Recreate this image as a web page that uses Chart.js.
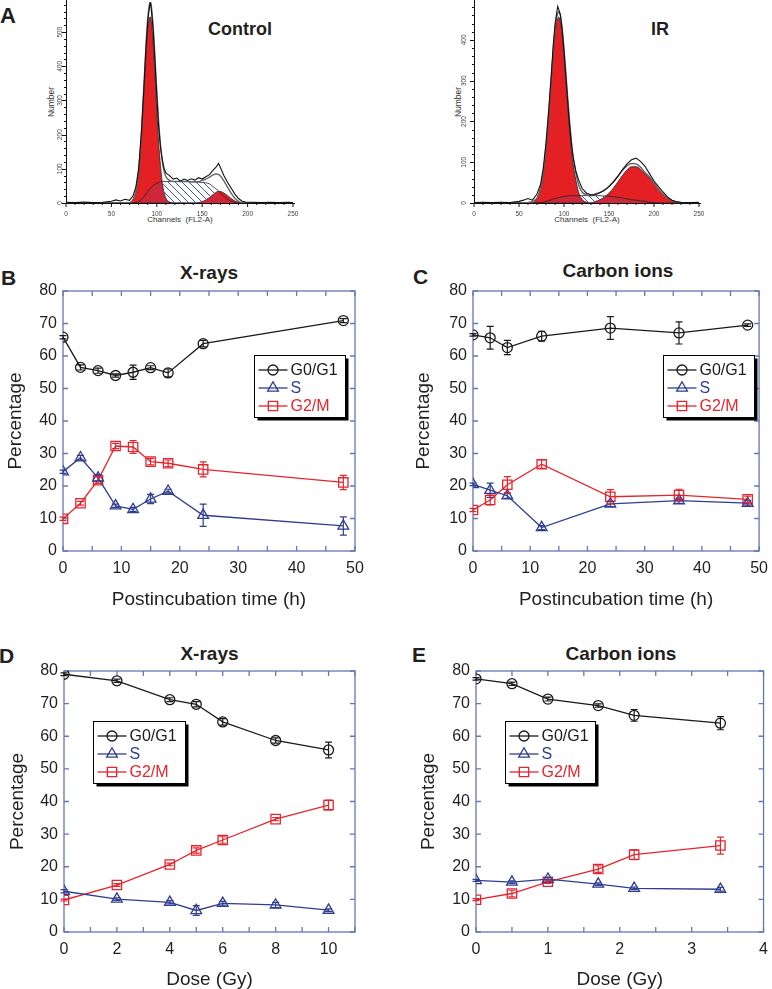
<!DOCTYPE html>
<html>
<head>
<meta charset="utf-8">
<script src="https://cdn.jsdelivr.net/npm/chart.js@4.4.1/dist/chart.umd.min.js"></script>
<style>
  html, body { margin: 0; padding: 0; background: #fff; }
  body { position: relative; width: 772px; height: 989px; overflow: hidden; font-family: "Liberation Sans", Arial, sans-serif; color: #231f20; }
  canvas { position: absolute; }
  .t { position: absolute; white-space: nowrap; line-height: 1; }
  .b { font-weight: bold; }
  .c { transform: translateX(-50%); }
  .r { transform: translate(-50%, -50%) rotate(-90deg); color: #333; font-size: 8.5px; }
</style>
</head>
<body>
<div class="t b" style="left:0;top:5px;font-size:22px">A</div>
<div class="t b c" style="left:240px;top:19.5px;font-size:18px">Control</div>
<div class="t b c" style="left:660px;top:19.5px;font-size:18px">IR</div>
<div class="t r" style="left:51px;top:102px">Number</div>
<div class="t r" style="left:458px;top:102px">Number</div>
<div class="t c" style="left:180px;top:215.5px;font-size:8px;color:#333">Channels&nbsp;&nbsp;(FL2-A)</div>
<div class="t c" style="left:587px;top:215.5px;font-size:8px;color:#333">Channels&nbsp;&nbsp;(FL2-A)</div>

<div class="t b" style="left:1px;top:267px;font-size:21px">B</div>
<div class="t b c" style="left:209px;top:262.5px;font-size:19px">X-rays</div>
<div class="t b" style="left:413px;top:266px;font-size:21px">C</div>
<div class="t b c" style="left:618px;top:261px;font-size:19px">Carbon ions</div>
<div class="t b" style="left:-1px;top:645px;font-size:21px">D</div>
<div class="t b c" style="left:209.5px;top:644px;font-size:19px">X-rays</div>
<div class="t b" style="left:412px;top:644px;font-size:21px">E</div>
<div class="t b c" style="left:621px;top:644px;font-size:19px">Carbon ions</div>

<canvas id="ctl" width="320" height="222" style="left:0;top:0"></canvas>
<canvas id="ir" width="330" height="222" style="left:386px;top:0"></canvas>
<canvas id="pb" width="386" height="341" style="left:0;top:270px"></canvas>
<canvas id="pc" width="368" height="341" style="left:408px;top:270px"></canvas>
<canvas id="pd" width="384" height="341" style="left:2px;top:650px"></canvas>
<canvas id="pe" width="363" height="341" style="left:413px;top:650px"></canvas>

<script>
// ---- panel A: DNA histograms (channel vs number of cells) ----
const histXTicks = [0, 50, 100, 150, 200, 250];
const ctlYTicks = [0, 100, 200, 300, 400, 500];
const irYTicks = [0, 100, 200, 300, 400];

const ctlCh = [0, 10, 20, 30, 40, 50, 55, 60, 65, 70, 74, 77, 80, 83, 86, 88, 90, 92, 93, 94,
  96, 98, 100, 102, 104, 106, 108, 110, 114, 118, 122, 126, 130, 134, 138, 142, 146, 150, 154, 158,
  162, 165, 168, 171, 174, 178, 182, 186, 190, 194, 198, 205, 215, 225, 235, 245, 250];
const ctlRaw = [2, 1, 3, 1, 2, 5, 9, 6, 11, 8, 22, 48, 100, 205, 345, 450, 530, 575, 588, 565,
  505, 410, 315, 225, 165, 128, 102, 88, 80, 70, 73, 64, 70, 66, 71, 67, 74, 70, 77, 83,
  96, 104, 116, 98, 80, 60, 43, 26, 13, 5, 3, 2, 1, 2, 1, 2, 1];
const ctlFit = [0, 0, 0, 0, 0, 0, 0, 0, 0, 1, 11, 35, 94, 203, 354, 457, 540, 582, 587, 576,
  516, 427, 326, 238, 172, 122, 93, 77, 66, 63, 63, 63, 63, 63, 62, 62, 62, 66, 70, 76,
  82, 85, 84, 76, 64, 46, 28, 14, 5, 1, 0, 0, 0, 0, 0, 0, 0];
const ctlG1 = [0, 0, 0, 0, 0, 0, 0, 0, 0, 1, 11, 34, 90, 193, 335, 431, 507, 542, 544, 530,
  465, 372, 268, 178, 110, 60, 30, 14, 3, 0, 0, 0, 0, 0, 0, 0, 0, 0, 0, 0,
  0, 0, 0, 0, 0, 0, 0, 0, 0, 0, 0, 0, 0, 0, 0, 0, 0];
const ctlS = [0, 0, 0, 0, 0, 0, 0, 0, 0, 0, 0, 1, 4, 10, 19, 26, 33, 40, 43, 46,
  51, 55, 58, 60, 62, 62, 63, 63, 63, 63, 63, 63, 63, 63, 62, 62, 61, 60, 59, 56,
  48, 42, 35, 27, 19, 11, 5, 2, 0, 0, 0, 0, 0, 0, 0, 0, 0];
const ctlG2 = [0, 0, 0, 0, 0, 0, 0, 0, 0, 0, 0, 0, 0, 0, 0, 0, 0, 0, 0, 0,
  0, 0, 0, 0, 0, 0, 0, 0, 0, 0, 0, 0, 0, 0, 0, 0, 1, 4, 9, 16,
  25, 31, 34, 33, 29, 21, 13, 6, 2, 0, 0, 0, 0, 0, 0, 0, 0];

const irCh = [0, 10, 20, 30, 40, 50, 55, 60, 65, 70, 74, 77, 80, 83, 86, 88, 90, 92, 93, 94,
  96, 98, 100, 102, 104, 106, 108, 110, 113, 116, 120, 125, 130, 135, 140, 145, 150, 155, 160, 165,
  170, 175, 180, 185, 190, 195, 200, 205, 210, 215, 220, 225, 230, 240, 250];
const irRaw = [1, 2, 1, 2, 1, 4, 7, 11, 7, 22, 46, 86, 148, 228, 318, 386, 438, 468, 482, 476,
  462, 424, 372, 312, 252, 196, 150, 114, 80, 58, 36, 24, 20, 21, 25, 31, 40, 52, 66, 82,
  96, 106, 110, 102, 90, 72, 54, 40, 27, 15, 7, 3, 2, 1, 2];
const irFit = [0, 0, 0, 0, 0, 0, 0, 1, 4, 12, 37, 75, 136, 218, 312, 373, 423, 457, 464, 469,
  459, 427, 379, 321, 262, 206, 156, 116, 76, 46, 27, 20, 18, 22, 26, 32, 41, 52, 66, 80,
  91, 97, 96, 88, 75, 64, 49, 34, 22, 12, 6, 3, 1, 0, 0];
const irG1 = [0, 0, 0, 0, 0, 0, 0, 0, 0, 12, 36, 73, 132, 212, 304, 363, 412, 445, 452, 456,
  445, 412, 363, 304, 245, 188, 138, 98, 58, 28, 9, 2, 0, 0, 0, 0, 0, 0, 0, 0,
  0, 0, 0, 0, 0, 0, 0, 0, 0, 0, 0, 0, 0, 0, 0];
const irS = [0, 0, 0, 0, 0, 0, 0, 0, 0, 0, 1, 2, 4, 6, 8, 10, 11, 12, 12, 13,
  14, 15, 16, 17, 17, 18, 18, 18, 18, 18, 18, 18, 18, 18, 18, 17, 17, 15, 14, 12,
  10, 8, 7, 5, 4, 2, 1, 0, 0, 0, 0, 0, 0, 0, 0];
const irG2 = [0, 0, 0, 0, 0, 0, 0, 0, 0, 0, 0, 0, 0, 0, 0, 0, 0, 0, 0, 0,
  0, 0, 0, 0, 0, 0, 0, 0, 0, 0, 0, 0, 0, 4, 8, 15, 24, 37, 52, 68,
  81, 89, 89, 83, 71, 62, 48, 34, 22, 12, 6, 3, 1, 0, 0];

// ---- panels B-E: cell cycle distribution (%) ----
const pctTicks = [0, 10, 20, 30, 40, 50, 60, 70, 80];
const timeTicks = [0, 10, 20, 30, 40, 50];
const xrayDoseTicks = [0, 2, 4, 6, 8, 10];
const carbonDoseTicks = [0, 1, 2, 3, 4];

// B: X-rays vs postincubation time
const bTime = [0, 3, 6, 9, 12, 15, 18, 24, 48];
const bG1 = [65.8, 56.5, 55.5, 54, 55, 56.4, 54.8, 63.8, 70.9];
const bG1Err = [0.5, 0.8, 0.8, 0.5, 2.2, 0.6, 1.2, 1, 0.6];
const bS = [24.4, 28.7, 22.5, 13.9, 12.8, 16, 18.4, 11, 7.7];
const bSErr = [0.5, 0.7, 1, 0.5, 0.6, 1.4, 0.6, 3.4, 2.8];
const bG2 = [9.9, 14.7, 21.8, 32.3, 32, 27.5, 27, 25.1, 21.1];
const bG2Err = [0.5, 0.6, 1, 0.8, 2, 1, 1, 2.3, 2.2];

// C: carbon ions vs postincubation time
const cTime = [0, 3, 6, 12, 24, 36, 48];
const cG1 = [66.5, 65.6, 62.6, 66.1, 68.6, 67.1, 69.5];
const cG1Err = [0.4, 3.5, 2.2, 1.5, 3.5, 3.4, 0.4];
const cS = [20.5, 18.7, 17, 7.2, 14.5, 15.5, 14.7];
const cSErr = [0.4, 2.2, 0.8, 0.6, 0.8, 0.8, 0.8];
const cG2 = [12.6, 15.7, 20.4, 26.7, 16.7, 17.2, 15.9];
const cG2Err = [0.5, 1.5, 2.5, 1.3, 2.2, 1.8, 1];

// D: X-rays vs dose
const dDose = [0, 2, 4, 5, 6, 8, 10];
const dG1 = [79, 77, 71.2, 69.8, 64.4, 58.7, 55.8];
const dG1Err = [0.4, 0.5, 0.6, 0.8, 1, 0.8, 2.4];
const dS = [12.5, 10.1, 9.1, 6.6, 8.8, 8.3, 6.7];
const dSErr = [0.5, 0.4, 0.5, 1.5, 0.6, 0.8, 0.4];
const dG2 = [9.8, 14.4, 20.7, 25, 28.2, 34.6, 38.9];
const dG2Err = [0.3, 0.4, 0.4, 0.8, 1, 0.5, 1.5];

// E: carbon ions vs dose
const eDose = [0, 0.5, 1, 1.7, 2.2, 3.4];
const eG1 = [77.6, 76.1, 71.4, 69.4, 66.4, 64];
const eG1Err = [0.4, 0.5, 0.6, 0.5, 1.8, 2];
const eS = [15.8, 15.3, 16.2, 14.7, 13.4, 13.1];
const eSErr = [0.3, 0.4, 0.5, 0.4, 0.4, 0.6];
const eG2 = [9.9, 11.8, 15.4, 19.3, 23.7, 26.5];
const eG2Err = [0.3, 1, 0.5, 1, 1.5, 2.6];

const FONT = '"Liberation Sans", Arial, sans-serif';
const TXT = '#231f20';
const BLACK = '#1a1a1a', BLUE = '#2f3d91', RED = '#e5252c', FRAME = '#6677b6';
const HRED = '#e42024';

// axes for the histograms: left + bottom lines, outward ticks, tiny labels
const histAxes = {
  id: 'histAxes',
  beforeDatasetsDraw(chart, args, o) {
    const { ctx, chartArea: a, scales: { x, y } } = chart;
    ctx.save();
    ctx.strokeStyle = '#111';
    ctx.lineWidth = 1;
    ctx.beginPath();
    ctx.moveTo(a.left + 0.5, 0);
    ctx.lineTo(a.left + 0.5, a.bottom + 0.5);
    ctx.lineTo(a.right + 2, a.bottom + 0.5);
    for (let v = 0; v <= x.max; v += 10) {
      const p = x.getPixelForValue(v);
      ctx.moveTo(p, a.bottom);
      ctx.lineTo(p, a.bottom + (v % 50 === 0 ? 4 : 2));
    }
    for (let v = 0; v <= y.max; v += 20) {
      const p = Math.round(y.getPixelForValue(v)) + 0.5;
      ctx.moveTo(a.left, p);
      ctx.lineTo(a.left - (v % 100 === 0 ? 4 : 2), p);
    }
    ctx.stroke();
    ctx.fillStyle = '#444';
    ctx.font = '6.5px ' + FONT;
    ctx.textAlign = 'center';
    histXTicks.forEach(v => ctx.fillText(String(v), x.getPixelForValue(v), a.bottom + 12.5));
    o.yTicks.forEach(v => {
      ctx.save();
      ctx.translate(a.left - o.yGap, y.getPixelForValue(v));
      ctx.rotate(-Math.PI / 2);
      ctx.textBaseline = 'middle';
      ctx.fillText(String(v), 0, 0);
      ctx.restore();
    });
    ctx.restore();
  }
};

function hatchPattern(canvas) {
  const c = document.createElement('canvas');
  c.width = 7; c.height = 7;
  const g = c.getContext('2d');
  g.strokeStyle = '#4658ab';
  g.lineWidth = 1;
  g.beginPath();
  g.moveTo(-1, -1); g.lineTo(8, 8);
  g.moveTo(-1, 6); g.lineTo(1, 8);
  g.moveTo(6, -1); g.lineTo(8, 1);
  g.stroke();
  return canvas.getContext('2d').createPattern(c, 'repeat');
}

function pts(xs, ys) { return xs.map((x, i) => ({ x, y: ys[i] })); }

function histogram(id, ch, raw, fit, g1, s, g2, yMax, yTicks, yGap, pad) {
  const canvas = document.getElementById(id);
  const smooth = { cubicInterpolationMode: 'monotone', pointRadius: 0 };
  return new Chart(canvas, {
    type: 'line',
    data: { datasets: [
      { data: pts(ch, raw), borderColor: '#111', borderWidth: 1.1, pointRadius: 0, fill: false, order: 0 },
      { data: pts(ch, fit), borderColor: '#666', borderWidth: 1.4, fill: false, order: 1, ...smooth },
      { data: pts(ch, s), borderColor: '#222', borderWidth: 0.8, backgroundColor: hatchPattern(canvas), fill: 'origin', order: 2, ...smooth },
      { data: pts(ch, g2), borderColor: '#222', borderWidth: 0.8, backgroundColor: HRED, fill: 'origin', order: 3, ...smooth },
      { data: pts(ch, g1), borderColor: '#222', borderWidth: 0.8, backgroundColor: HRED, fill: 'origin', order: 4, ...smooth }
    ]},
    options: {
      responsive: false, animation: false, events: [],
      layout: { padding: pad },
      scales: {
        x: { type: 'linear', min: 0, max: 250, display: false },
        y: { min: 0, max: yMax, display: false }
      },
      plugins: { legend: { display: false }, tooltip: { enabled: false }, histAxes: { yTicks, yGap } }
    },
    plugins: [histAxes]
  });
}

histogram('ctl', ctlCh, ctlRaw, ctlFit, ctlG1, ctlS, ctlG2, 588, ctlYTicks, 6,
  { left: 66, top: 2, right: 27, bottom: 19 });
histogram('ir', irCh, irRaw, irFit, irG1, irS, irG2, 493, irYTicks, 9.5,
  { left: 88, top: 2, right: 17, bottom: 19 });

// ---- line panels ----
function drawMarker(ctx, style, x, y, r) {
  ctx.beginPath();
  if (style === 'circle') {
    ctx.arc(x, y, r, 0, Math.PI * 2);
  } else if (style === 'triangle') {
    ctx.moveTo(x, y - r);
    ctx.lineTo(x + r * 0.866, y + r * 0.5);
    ctx.lineTo(x - r * 0.866, y + r * 0.5);
    ctx.closePath();
  } else {
    const h = r * Math.SQRT1_2;
    ctx.rect(x - h, y - h, 2 * h, 2 * h);
  }
  ctx.stroke();
}

const framePlugin = {
  id: 'frame',
  beforeDatasetsDraw(chart, args, o) {
    const { ctx, chartArea: a, scales: { x, y } } = chart;
    ctx.save();
    ctx.strokeStyle = FRAME;
    ctx.lineWidth = 1.3;
    ctx.strokeRect(a.left, a.top, a.right - a.left, a.bottom - a.top);
    ctx.beginPath();
    for (let v = x.min; v <= x.max + 1e-9; v += o.xStep) {
      const p = x.getPixelForValue(v);
      ctx.moveTo(p, a.bottom); ctx.lineTo(p, a.bottom - 5);
      ctx.moveTo(p, a.top); ctx.lineTo(p, a.top + 5);
    }
    for (let v = y.min; v <= y.max + 1e-9; v += o.yStep) {
      const p = y.getPixelForValue(v);
      ctx.moveTo(a.left, p); ctx.lineTo(a.left + 5, p);
      ctx.moveTo(a.right, p); ctx.lineTo(a.right - 5, p);
    }
    ctx.stroke();
    ctx.restore();
  }
};

const errorBars = {
  id: 'errorBars',
  afterDatasetsDraw(chart) {
    const { ctx, scales: { y } } = chart;
    ctx.save();
    ctx.lineWidth = 1.2;
    chart.data.datasets.forEach((ds, i) => {
      const meta = chart.getDatasetMeta(i);
      ctx.strokeStyle = ds.borderColor;
      ctx.beginPath();
      meta.data.forEach((el, j) => {
        const v = ds.data[j].y, e = ds.errors[j];
        const t = y.getPixelForValue(v + e), b = y.getPixelForValue(v - e);
        ctx.moveTo(el.x, t); ctx.lineTo(el.x, b);
        ctx.moveTo(el.x - 3.5, t); ctx.lineTo(el.x + 3.5, t);
        ctx.moveTo(el.x - 3.5, b); ctx.lineTo(el.x + 3.5, b);
      });
      ctx.stroke();
    });
    ctx.restore();
  }
};

const boxLegend = {
  id: 'boxLegend',
  afterDraw(chart, args, o) {
    const { ctx, chartArea: a } = chart;
    const bx = Math.round(a.left + o.x) + 0.5, by = Math.round(a.top + o.y) + 0.5;
    ctx.save();
    ctx.fillStyle = '#000';
    ctx.fillRect(bx + 3, by + 3, o.w, o.h);
    ctx.fillStyle = '#fff';
    ctx.fillRect(bx, by, o.w, o.h);
    ctx.strokeStyle = '#000';
    ctx.lineWidth = 1;
    ctx.strokeRect(bx, by, o.w, o.h);
    ctx.font = '16px ' + FONT;
    ctx.textBaseline = 'middle';
    chart.data.datasets.forEach((ds, i) => {
      const cy = by + 14.5 + 18 * i;
      ctx.strokeStyle = ds.borderColor;
      ctx.lineWidth = 1.3;
      ctx.beginPath();
      ctx.moveTo(bx + 4, cy); ctx.lineTo(bx + 33, cy);
      ctx.stroke();
      drawMarker(ctx, ds.pointStyle, bx + 18.5, cy, ds.pointRadius);
      ctx.fillStyle = ds.borderColor;
      ctx.fillText(ds.label, bx + 36, cy + 1);
    });
    ctx.restore();
  }
};

function series(label, xs, ys, errs, color, style, radius) {
  return {
    label, data: pts(xs, ys), errors: errs,
    borderColor: color, backgroundColor: color, borderWidth: 1.3,
    pointStyle: style, pointRadius: radius, pointBorderColor: color,
    pointBackgroundColor: 'rgba(255,255,255,0)', pointBorderWidth: 1.3,
    tension: 0, fill: false
  };
}

function panel(id, c) {
  const tickFont = { family: FONT, size: 16 };
  const titleFont = { family: FONT, size: 19 };
  return new Chart(document.getElementById(id), {
    type: 'line',
    data: { datasets: [
      series('G0/G1', c.x, c.g1, c.g1e, BLACK, 'circle', 5),
      series('S', c.x, c.s, c.se, BLUE, 'triangle', 6.2),
      series('G2/M', c.x, c.g2, c.g2e, RED, 'rect', 6.6)
    ]},
    options: {
      responsive: false, animation: false, events: [],
      layout: { padding: { left: 0, top: 21, right: c.padRight, bottom: 0 } },
      scales: {
        x: {
          type: 'linear', min: 0, max: c.xMax,
          grid: { display: false, drawTicks: false }, border: { display: false },
          afterBuildTicks: sc => { sc.ticks = c.xTicks.map(v => ({ value: v })); },
          afterFit: sc => { sc.height = c.xH; },
          ticks: { padding: 8, color: TXT, font: tickFont, maxRotation: 0, autoSkip: false },
          title: { display: true, text: c.xTitle, color: TXT, font: titleFont, padding: { top: 0, bottom: 0 } }
        },
        y: {
          min: 0, max: 80,
          grid: { display: false, drawTicks: false }, border: { display: false },
          afterBuildTicks: sc => { sc.ticks = pctTicks.map(v => ({ value: v })); },
          afterFit: sc => { sc.width = c.yW; },
          ticks: { padding: 6, color: TXT, font: tickFont, autoSkip: false },
          title: { display: true, text: 'Percentage', color: TXT, font: titleFont, padding: { top: 4.5, bottom: 0 } }
        }
      },
      plugins: {
        legend: { display: false }, tooltip: { enabled: false },
        frame: { xStep: c.xMinor, yStep: 10 },
        boxLegend: c.legend
      }
    },
    plugins: [framePlugin, errorBars, boxLegend]
  });
}

panel('pb', { x: bTime, g1: bG1, g1e: bG1Err, s: bS, se: bSErr, g2: bG2, g2e: bG2Err,
  xMax: 50, xTicks: timeTicks, xMinor: 5, xTitle: 'Postincubation time (h)',
  yW: 63, padRight: 31, xH: 60, legend: { x: 191, y: 64, w: 91, h: 62 } });
panel('pc', { x: cTime, g1: cG1, g1e: cG1Err, s: cS, se: cSErr, g2: cG2, g2e: cG2Err,
  xMax: 50, xTicks: timeTicks, xMinor: 5, xTitle: 'Postincubation time (h)',
  yW: 65, padRight: 12, xH: 60, legend: { x: 190, y: 64, w: 91, h: 62 } });
panel('pd', { x: dDose, g1: dG1, g1e: dG1Err, s: dS, se: dSErr, g2: dG2, g2e: dG2Err,
  xMax: 11, xTicks: xrayDoseTicks, xMinor: 1, xTitle: 'Dose (Gy)',
  yW: 62, padRight: 31, xH: 59, legend: { x: 29, y: 50, w: 92, h: 62 } });
panel('pe', { x: eDose, g1: eG1, g1e: eG1Err, s: eS, se: eSErr, g2: eG2, g2e: eG2Err,
  xMax: 4, xTicks: carbonDoseTicks, xMinor: 0.5, xTitle: 'Dose (Gy)',
  yW: 63, padRight: 10, xH: 59, legend: { x: 29, y: 50, w: 90, h: 62 } });
</script>
</body>
</html>
